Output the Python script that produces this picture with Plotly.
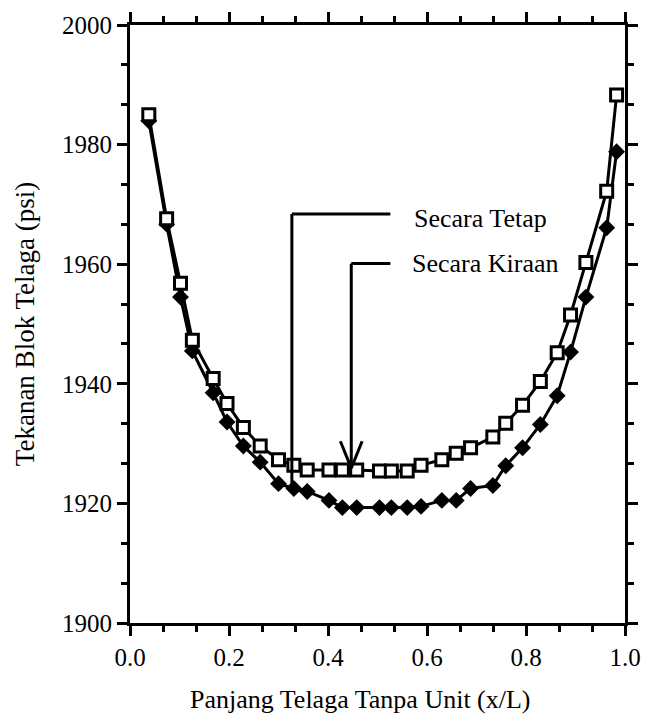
import plotly.graph_objects as go

# Dimensionless well length (x/L)
x_vals = [0.038, 0.074, 0.102, 0.126, 0.168, 0.196, 0.229, 0.263, 0.300, 0.331,
          0.358, 0.402, 0.429, 0.458, 0.504, 0.528, 0.560, 0.588, 0.630, 0.659,
          0.688, 0.733, 0.759, 0.793, 0.829, 0.863, 0.890, 0.921, 0.963, 0.983]

# Open squares ("Secara Kiraan")
kiraan_psi = [1985.0, 1967.6, 1956.8, 1947.3, 1940.9, 1936.7, 1932.7, 1929.6, 1927.3, 1926.4,
              1925.6, 1925.6, 1925.6, 1925.6, 1925.4, 1925.4, 1925.4, 1926.4, 1927.3, 1928.4,
              1929.3, 1931.1, 1933.4, 1936.4, 1940.4, 1945.2, 1951.5, 1960.3, 1972.2, 1988.3]

# Filled markers ("Secara Tetap")
tetap_psi = [1984.0, 1966.7, 1954.5, 1945.5, 1938.5, 1933.6, 1929.6, 1926.9, 1923.3, 1922.5,
             1922.0, 1920.5, 1919.3, 1919.3, 1919.3, 1919.3, 1919.3, 1919.5, 1920.5, 1920.5,
             1922.5, 1923.0, 1926.3, 1929.3, 1933.2, 1938.0, 1945.3, 1954.5, 1966.1, 1978.8]

x_ticks = [0.0, 0.2, 0.4, 0.6, 0.8, 1.0]
x_ticklabels = ["0.0", "0.2", "0.4", "0.6", "0.8", "1.0"]
y_ticks = [1900, 1920, 1940, 1960, 1980, 2000]

FONT = "Liberation Serif, Times New Roman, serif"
FS = 25

fig = go.Figure()
fig.add_trace(go.Scatter(
    x=x_vals, y=tetap_psi, mode="lines+markers", name="Secara Tetap",
    line=dict(color="black", width=3),
    marker=dict(symbol="diamond", size=13, color="black"),
))
fig.add_trace(go.Scatter(
    x=x_vals, y=kiraan_psi, mode="lines+markers", name="Secara Kiraan",
    line=dict(color="black", width=3),
    marker=dict(symbol="square", size=12, color="white", line=dict(color="black", width=3)),
))

# Leader lines for the labels
line_style = dict(color="black", width=3)
shapes = [
    # Secara Tetap leader
    dict(type="line", xref="x", yref="y", x0=0.327, x1=0.327, y0=1968.4, y1=1923.0, line=line_style),
    dict(type="line", xref="x", yref="y", x0=0.327, x1=0.526, y0=1968.4, y1=1968.4, line=line_style),
    # Secara Kiraan leader with open arrow head
    dict(type="line", xref="x", yref="y", x0=0.447, x1=0.447, y0=1960.1, y1=1925.9, line=line_style),
    dict(type="line", xref="x", yref="y", x0=0.447, x1=0.526, y0=1960.1, y1=1960.1, line=line_style),
    dict(type="line", xref="x", yref="y", x0=0.425, x1=0.447, y0=1930.4, y1=1925.9, line=line_style),
    dict(type="line", xref="x", yref="y", x0=0.469, x1=0.447, y0=1930.4, y1=1925.9, line=line_style),
]
fig.update_layout(shapes=shapes)

fig.add_annotation(x=0.570, y=1967.7, xref="x", yref="y", text="Secara Tetap",
                   showarrow=False, xanchor="left", yanchor="middle",
                   font=dict(family=FONT, size=26, color="black"))
fig.add_annotation(x=0.566, y=1960.2, xref="x", yref="y", text="Secara Kiraan",
                   showarrow=False, xanchor="left", yanchor="middle",
                   font=dict(family=FONT, size=26, color="black"))

# x-axis title (sits slightly left of centre in the original)
fig.add_annotation(x=0.465, y=-0.128, xref="paper", yref="paper",
                   text="Panjang Telaga Tanpa Unit (x/L)", showarrow=False,
                   xanchor="center", yanchor="middle",
                   font=dict(family=FONT, size=26, color="black"))

axis_common = dict(
    showline=True, linecolor="black", linewidth=3, mirror="ticks",
    ticks="outside", ticklen=10, tickwidth=2.5, tickcolor="black",
    showgrid=False, zeroline=False,
    tickfont=dict(family=FONT, size=FS, color="black"),
)
fig.update_xaxes(
    range=[0, 1], tickvals=x_ticks, ticktext=x_ticklabels,
    minor=dict(dtick=0.2 / 3, tick0=0, ticks="outside", ticklen=6, tickwidth=2.5, tickcolor="black"),
    **axis_common,
)
fig.update_yaxes(
    range=[1900, 2000], tickvals=y_ticks,
    title=dict(text="Tekanan Blok Telaga (psi)", font=dict(family=FONT, size=27, color="black"), standoff=20),
    minor=dict(dtick=20 / 3, tick0=1900, ticks="outside", ticklen=6, tickwidth=2.5, tickcolor="black"),
    **axis_common,
)

fig.update_layout(
    width=653, height=719,
    margin=dict(l=130, r=25, t=20, b=96),
    paper_bgcolor="white", plot_bgcolor="white",
    showlegend=False,
    font=dict(family=FONT, size=FS, color="black"),
)

fig.write_html("out.html")
